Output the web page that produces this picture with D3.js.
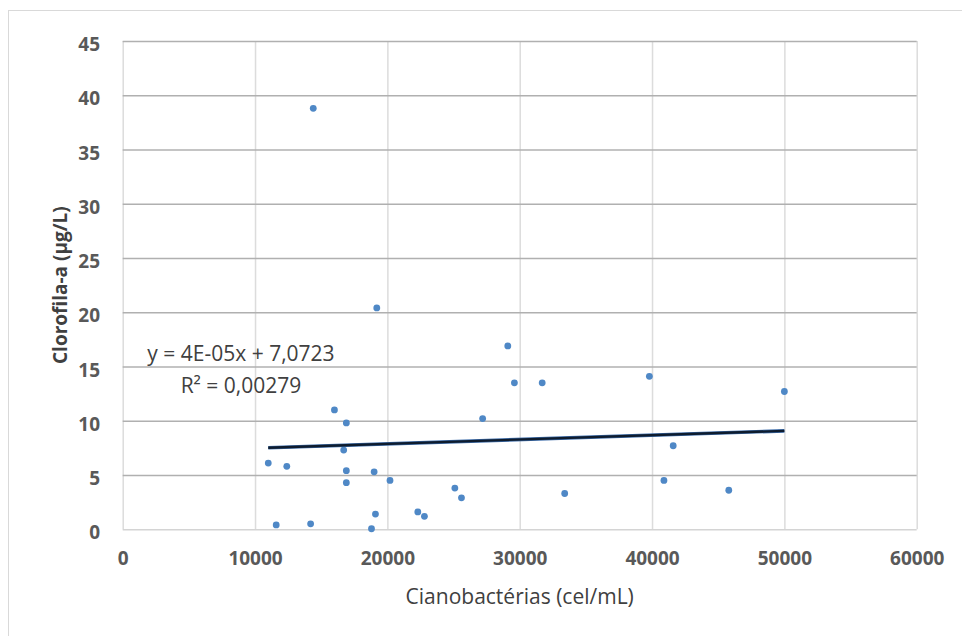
<!DOCTYPE html>
<html>
<head>
<meta charset="utf-8">
<title>Clorofila-a x Cianobactérias</title>
<script src="https://cdn.jsdelivr.net/npm/d3@7"></script>
<style>
    body { margin: 0; background: #fff; }
    .tick text { font-family: "Open Sans", sans-serif; font-weight: bold; font-size: 19px; fill: #595959; }
</style>
</head>
<body>
<script>
    // cianobactérias (cel/mL) and clorofila-a (µg/L)
    var cianoValues = [14400, 19200, 29100, 29600, 31700, 16000, 16900, 27200, 16700, 11000,
                       12400, 16900, 19000, 16900, 20200, 25100, 25600, 19100, 22300, 22800,
                       11600, 14200, 18800, 39800, 50000, 41600, 40900, 45800, 33400];
    var cloroValues = [38.8, 20.4, 16.9, 13.5, 13.5, 11.0, 9.8, 10.2, 7.3, 6.1,
                       5.8, 5.4, 5.3, 4.3, 4.5, 3.8, 2.9, 1.4, 1.6, 1.2,
                       0.4, 0.5, 0.05, 14.1, 12.7, 7.7, 4.5, 3.6, 3.3];
    var xTicks = [0, 10000, 20000, 30000, 40000, 50000, 60000];
    var yTicks = [0, 5, 10, 15, 20, 25, 30, 35, 40, 45];
    var trendSlope = 0.00004;
    var trendIntercept = 7.0723;
    var trendLabels = ["y = 4E-05x + 7,0723", "R² = 0,00279"];

    var w = 962, h = 636;
    var plotLeft = 122.7, plotRight = 916.7, plotTop = 41, plotBottom = 529.3;

    var svg = d3.select("body").append("svg").attr("width", w).attr("height", h);

    // outer chart frame
    svg.append("rect").attr("x", 8.5).attr("y", 10.5).attr("width", 1000).attr("height", 1000)
        .attr("fill", "none").attr("stroke", "#d9d9d9");

    var x = d3.scaleLinear().domain([0, 60000]).range([plotLeft, plotRight]);
    var y = d3.scaleLinear().domain([0, 45]).range([plotBottom, plotTop]);

    // vertical grid + x labels
    var xAxis = svg.append("g").attr("transform", "translate(0," + plotBottom + ")")
        .call(d3.axisBottom(x).tickValues(xTicks).tickFormat(d3.format("d"))
            .tickSize(-(plotBottom - plotTop)).tickPadding(22));
    xAxis.select(".domain").remove();
    xAxis.selectAll(".tick line").attr("stroke", "#dcdcdc").attr("stroke-width", 1.5);

    // horizontal grid + y labels
    var yAxis = svg.append("g").attr("transform", "translate(" + plotLeft + ",0)")
        .call(d3.axisLeft(y).tickValues(yTicks).tickSize(-(plotRight - plotLeft)).tickPadding(22.7));
    yAxis.select(".domain").remove();
    yAxis.selectAll(".tick line")
        .attr("stroke", function(d) { return d == 0 ? "#d4d4d4" : "#b0b0b0"; })
        .attr("stroke-width", 1.6);
    yAxis.selectAll(".tick text").attr("dy", "0.5em");

    // points
    svg.selectAll("circle.pt").data(cianoValues).enter().append("circle")
        .attr("class", "pt")
        .attr("cx", function(d) { return x(d); })
        .attr("cy", function(d, i) { return y(cloroValues[i]); })
        .attr("r", 3.4)
        .attr("fill", "#4f88c6");

    // linear trendline over the data range
    var xMin = d3.min(cianoValues), xMax = d3.max(cianoValues);
    var trend = [[xMin, trendSlope * xMin + trendIntercept], [xMax, trendSlope * xMax + trendIntercept]];
    var line = d3.line().x(function(d) { return x(d[0]); }).y(function(d) { return y(d[1]); });
    svg.append("path").attr("d", line(trend)).attr("fill", "none")
        .attr("stroke", "#3a6aa8").attr("stroke-width", 3.6);
    svg.append("path").attr("d", line(trend)).attr("fill", "none")
        .attr("stroke", "#0e1c2e").attr("stroke-width", 2.4);

    // trendline labels
    svg.selectAll("text.eq").data(trendLabels).enter().append("text")
        .attr("class", "eq")
        .attr("x", 241)
        .attr("y", function(d, i) { return 361 + i * 32; })
        .attr("text-anchor", "middle")
        .attr("font-family", "Open Sans, sans-serif")
        .attr("font-size", "21px")
        .attr("fill", "#404040")
        .text(function(d) { return d; });

    // axis titles
    svg.append("text")
        .attr("x", (plotLeft + plotRight) / 2).attr("y", 604)
        .attr("text-anchor", "middle")
        .attr("font-family", "Open Sans, sans-serif")
        .attr("font-size", "21px")
        .attr("fill", "#404040")
        .text("Cianobactérias (cel/mL)");

    svg.append("text")
        .attr("transform", "translate(67," + ((plotTop + plotBottom) / 2) + ") rotate(-90)")
        .attr("text-anchor", "middle")
        .attr("font-family", "Open Sans, sans-serif")
        .attr("font-weight", "bold")
        .attr("font-size", "19px")
        .attr("fill", "#404040")
        .text("Clorofila-a (µg/L)");
</script>
</body>
</html>
